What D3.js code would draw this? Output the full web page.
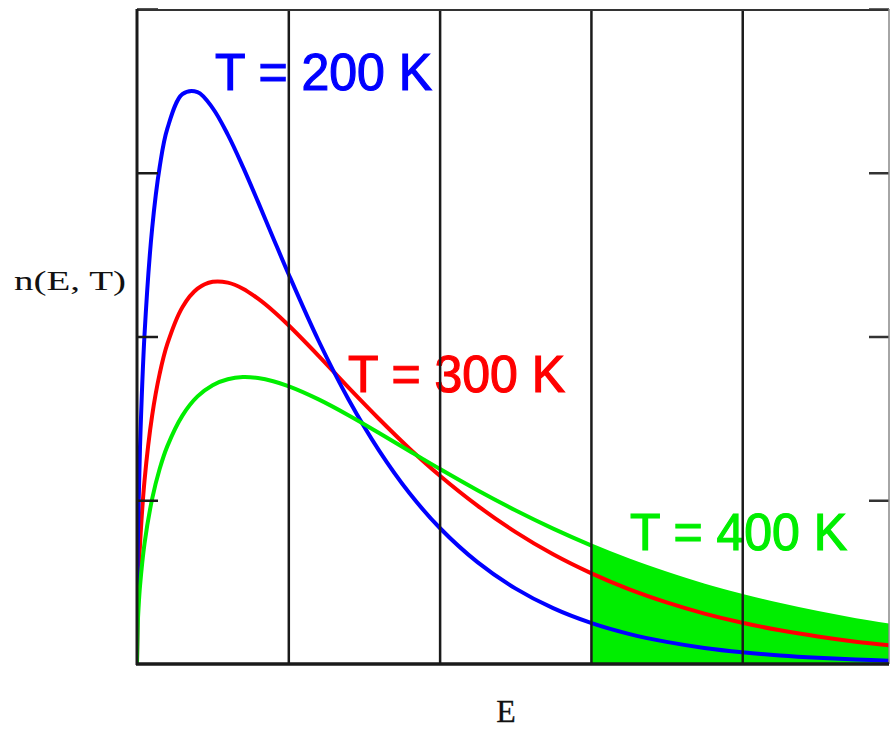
<!DOCTYPE html>
<html>
<head>
<meta charset="utf-8">
<script src="https://cdn.jsdelivr.net/npm/d3@7"></script>
<style>
  html, body { margin: 0; padding: 0; background: #fff; }
  svg { display: block; }
</style>
</head>
<body>
<svg id="chart" width="890" height="729"></svg>
<script>
// ---- data ----
const energies = [0, 0.005, 0.01, 0.02, 0.05, 0.1, 0.15, 0.2, 0.3, 0.4, 0.5, 0.6, 0.7, 0.8, 0.9, 1.0,
  1.2, 1.4, 1.6, 1.8, 2.0, 2.25, 2.5, 2.75, 3.0, 3.25, 3.5, 3.75, 4.0, 4.25, 4.5, 4.75, 5.0];
const n200 = [0, 0.679, 0.953, 1.329, 2.016, 2.659, 3.036, 3.268, 3.480, 3.493, 3.395, 3.233, 3.036, 2.822, 2.602, 2.385,
  1.974, 1.612, 1.303, 1.044, 0.832, 0.622, 0.462, 0.341, 0.251, 0.184, 0.135, 0.098, 0.0715, 0.052, 0.0377, 0.0273, 0.0197];
const n300 = [0, 0.370, 0.522, 0.731, 1.123, 1.517, 1.773, 1.953, 2.179, 2.292, 2.334, 2.329, 2.292, 2.231, 2.156, 2.070,
  1.882, 1.686, 1.496, 1.316, 1.151, 0.967, 0.807, 0.670, 0.555, 0.457, 0.376, 0.308, 0.252, 0.206, 0.168, 0.136, 0.111];
const n400 = [0, 0.241, 0.339, 0.477, 0.738, 1.008, 1.192, 1.329, 1.517, 1.634, 1.703, 1.739, 1.752, 1.746, 1.727, 1.697,
  1.616, 1.518, 1.411, 1.301, 1.192, 1.061, 0.939, 0.827, 0.725, 0.633, 0.552, 0.479, 0.416, 0.360, 0.311, 0.268, 0.231];
const seriesLabels = ["T = 200 K", "T = 300 K", "T = 400 K"];
const xTicks = [1, 2, 3, 4];
const yTicks = [1, 2, 3, 4];
const shadeFrom = 3;          // energy where the shaded tail begins
const xLabel = "E";
const yLabel = "n(E, T)";

// ---- layout ----
const svg = d3.select("#chart");
const L = 137, R = 889, T = 9, B = 664;
const x = d3.scaleLinear().domain([0, 4.97]).range([L, R]);
const y = d3.scaleLinear().domain([0, 4]).range([B, T]);

const colors = ["#0000ff", "#ff0000", "#00ee00"];
const series = [n200, n300, n400].map((vals, i) => ({
  label: seriesLabels[i], color: colors[i],
  pts: energies.map((e, j) => ({ e, v: vals[j] }))
}));

svg.append("defs").append("clipPath").attr("id", "plotClip")
  .append("rect").attr("x", L).attr("y", T - 2).attr("width", R - L).attr("height", B - T + 2);

const plot = svg.append("g").attr("clip-path", "url(#plotClip)");
const curve = d3.curveCatmullRom.alpha(0.5);

// shaded tail under the 400 K curve
const tail = series[2].pts.filter(p => p.e >= shadeFrom);
plot.append("path")
  .datum(tail)
  .attr("fill", "#00ee00")
  .attr("d", d3.area().curve(curve)
    .x(p => x(p.e)).y0(y(0)).y1(p => y(p.v)));

// labels
const labelPos = [[215, 90], [348, 392], [630, 550]];
series.forEach((s, i) => {
  svg.append("text")
    .attr("x", labelPos[i][0]).attr("y", labelPos[i][1])
    .attr("font-family", "Liberation Sans, Arial, sans-serif")
    .attr("font-size", 51)
    .attr("textLength", 217).attr("lengthAdjust", "spacingAndGlyphs")
    .attr("fill", s.color)
    .attr("stroke", s.color).attr("stroke-width", 1.2)
    .text(s.label);
});

// vertical gridlines
const gx = svg.append("g").attr("transform", `translate(0,${B})`)
  .call(d3.axisBottom(x).tickValues(xTicks).tickSize(-(B - T)).tickFormat(""));
gx.select(".domain").remove();
gx.selectAll("line").attr("stroke", "#1a1a1a").attr("stroke-width", 2.5);

// left inward ticks
const gl = svg.append("g").attr("transform", `translate(${L},0)`)
  .call(d3.axisRight(y).tickValues(yTicks).tickSize(21).tickFormat(""));
gl.select(".domain").remove();
gl.selectAll("line").attr("stroke", "#1a1a1a").attr("stroke-width", 2.5);

// right inward ticks
const gr = svg.append("g").attr("transform", `translate(${R},0)`)
  .call(d3.axisLeft(y).tickValues(yTicks).tickSize(20).tickFormat(""));
gr.select(".domain").remove();
gr.selectAll("line").attr("stroke", "#333").attr("stroke-width", 2.5);

// frame
svg.append("line").attr("x1", L).attr("x2", R).attr("y1", T + 1).attr("y2", T + 1)
  .attr("stroke", "#333").attr("stroke-width", 2);
svg.append("line").attr("x1", R).attr("x2", R).attr("y1", T).attr("y2", B)
  .attr("stroke", "#888").attr("stroke-width", 1.5);
svg.append("line").attr("x1", L).attr("x2", L).attr("y1", T).attr("y2", B + 1)
  .attr("stroke", "#1a1a1a").attr("stroke-width", 3);

// curves (drawn red, blue, green)
const line = d3.line().curve(curve).x(p => x(p.e)).y(p => y(p.v));
[1, 0, 2].forEach(i => {
  plot.append("path")
    .datum(series[i].pts)
    .attr("fill", "none")
    .attr("stroke", series[i].color)
    .attr("stroke-width", 4)
    .attr("stroke-linejoin", "round")
    .attr("d", line);
});

// bottom axis line
svg.append("line").attr("x1", L - 1).attr("x2", R).attr("y1", B).attr("y2", B)
  .attr("stroke", "#1a1a1a").attr("stroke-width", 3.5);

// axis titles
svg.append("text")
  .attr("x", 14).attr("y", 290)
  .attr("font-family", "Liberation Serif, Times New Roman, serif")
  .attr("font-size", 28)
  .attr("textLength", 112).attr("lengthAdjust", "spacingAndGlyphs")
  .attr("fill", "#111")
  .text(yLabel);
svg.append("text")
  .attr("x", 506).attr("y", 722)
  .attr("text-anchor", "middle")
  .attr("font-family", "Liberation Serif, Times New Roman, serif")
  .attr("font-size", 32)
  .attr("fill", "#111")
  .attr("stroke", "#111").attr("stroke-width", 0.3)
  .text(xLabel);
</script>
</body>
</html>
